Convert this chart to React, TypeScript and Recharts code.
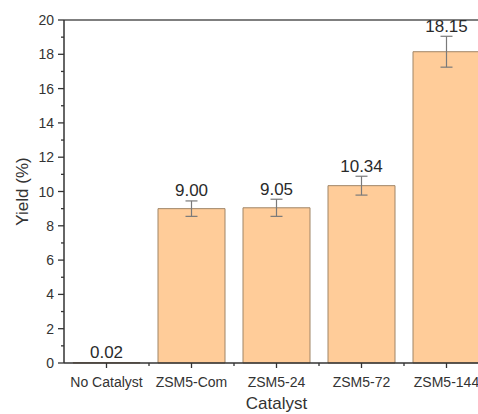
import React from 'react';
import { BarChart, Bar, XAxis, YAxis, ErrorBar, LabelList, ReferenceLine } from 'recharts';

const categories = ['No Catalyst', 'ZSM5-Com', 'ZSM5-24', 'ZSM5-72', 'ZSM5-144'];
const yields = [0.02, 9.0, 9.05, 10.34, 18.15];
const errors = [0, 0.45, 0.5, 0.55, 0.9];
const yTicks = [0, 1, 2, 3, 4, 5, 6, 7, 8, 9, 10, 11, 12, 13, 14, 15, 16, 17, 18, 19, 20];

const data = categories.map((name, i) => ({ name, value: yields[i], err: errors[i] }));

const FONT = "Arial, 'Liberation Sans', sans-serif";
const BAND = 85;

const YTick = (props: any) => {
  const { x, y, payload } = props;
  const major = payload.value % 2 === 0;
  return (
    <g>
      <line x1={x - (major ? 6 : 3)} x2={x} y1={y} y2={y} stroke="#333" strokeWidth={1.3} />
      {major && (
        <text x={x - 10} y={y} dy="0.36em" textAnchor="end" fontSize={14} fontFamily={FONT} fill="#333">
          {payload.value}
        </text>
      )}
    </g>
  );
};

const XTick = (props: any) => {
  const { x, y, payload } = props;
  return (
    <g>
      <line x1={x} x2={x} y1={y} y2={y + 5} stroke="#333" strokeWidth={1.3} />
      <line x1={x + BAND / 2} x2={x + BAND / 2} y1={y} y2={y + 3} stroke="#333" strokeWidth={1.3} />
      <text x={x} y={y + 24} textAnchor="middle" fontSize={14} fontFamily={FONT} fill="#333">
        {payload.value}
      </text>
    </g>
  );
};

const ValueLabel = (props: any) => {
  const { x, y, width, height, value, index } = props;
  const errPx = value ? (errors[index] * height) / value : 0;
  return (
    <text x={x + width / 2} y={y - errPx - 4.5} textAnchor="middle" fontSize={17} fontFamily={FONT} fill="#2a2a2a">
      {value.toFixed(2)}
    </text>
  );
};

export default function App() {
  return (
    <div style={{ position: 'fixed', left: 0, top: 0, width: 478, height: 414, overflow: 'hidden', background: '#fff' }}>
      <BarChart width={495} height={414} data={data} margin={{ top: 20, right: 6, left: 0, bottom: 0 }}>
        <XAxis
          dataKey="name"
          height={51}
          tickLine={false}
          tickSize={0}
          tickMargin={0}
          axisLine={{ stroke: '#333', strokeWidth: 1.5 }}
          tick={<XTick />}
          interval={0}
          label={(p: any) => (
            <text x={64 + 425 / 2} y={409} textAnchor="middle" fontSize={17} fontFamily={FONT} fill="#333">
              Catalyst
            </text>
          )}
        />
        <YAxis
          width={64}
          domain={[0, 20]}
          ticks={yTicks}
          interval={0}
          tickLine={false}
          tickSize={0}
          tickMargin={0}
          axisLine={{ stroke: '#333', strokeWidth: 1.5 }}
          tick={<YTick />}
          label={(p: any) => (
            <text
              x={28}
              y={191.5}
              textAnchor="middle"
              fontSize={17}
              fontFamily={FONT}
              fill="#333"
              transform="rotate(-90, 28, 191.5)"
            >
              Yield (%)
            </text>
          )}
        />
        <ReferenceLine y={20} stroke="#555" strokeWidth={1.6} />
        <Bar dataKey="value" fill="#FFCC99" stroke="#a08566" strokeWidth={1} barSize={67} isAnimationActive={false}>
          <ErrorBar dataKey="err" width={6} stroke="#7a7a7a" strokeWidth={1.2} />
          <LabelList dataKey="value" content={<ValueLabel />} />
        </Bar>
      </BarChart>
    </div>
  );
}
